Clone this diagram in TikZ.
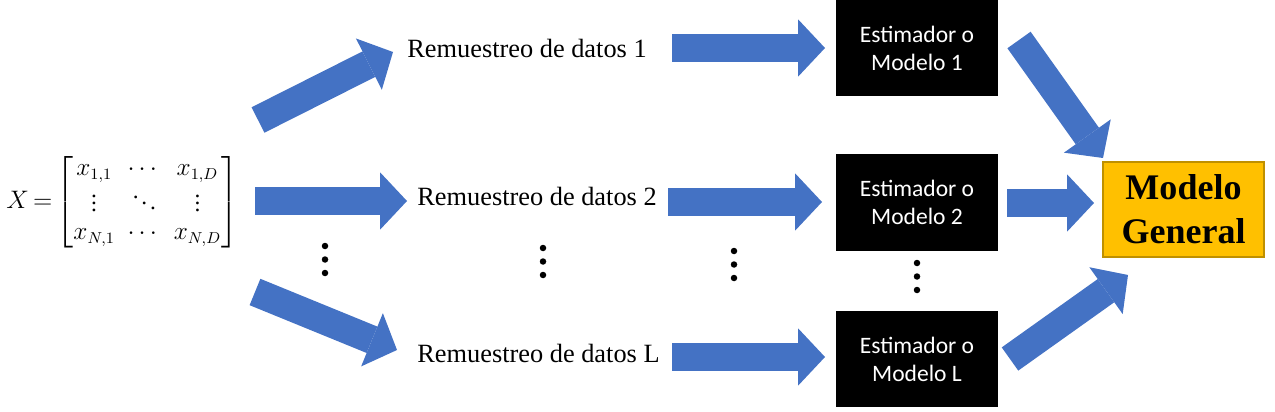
\documentclass[tikz,border=0pt]{standalone}
\usepackage{amsmath}
\usepackage{fontspec}
\setmainfont{Liberation Serif}
\newfontfamily\calibri{Carlito}
\usetikzlibrary{arrows.meta}
\definecolor{arrowblue}{HTML}{4472C4}
\definecolor{gengold}{HTML}{FFC000}
\definecolor{genedge}{HTML}{BF9000}

\begin{document}
\begin{tikzpicture}[x=0.02cm, y=-0.02cm,
blank/.style={inner sep=0pt, font=\fontsize{15}{18}\selectfont},
block/.style={rectangle, fill=black, text=white, align=center, inner sep=0pt,
minimum width=3.24cm, minimum height=1.93cm, font=\calibri\fontsize{13.4}{16}\selectfont},
block-general/.style={rectangle, fill=gengold, draw=genedge, line width=0.8pt, align=center,
minimum width=3.22cm, minimum height=1.9cm, font=\bfseries\fontsize{20.5}{25}\selectfont},
fat/.style={draw=arrowblue, line width=0.57cm,
-{Triangle[line width=0pt, width=1.15cm, length=0.54cm]}},
dot/.style={fill=black}
]
\useasboundingbox (0,0) rectangle (1275,412);

% data matrix
\node [inner sep=0pt, anchor=west] (data) at (6,202)
{\fontsize{13.3}{16}\selectfont $X\mkern-2mu=\mkern-2mu\setlength{\arraycolsep}{3.6pt}\begin{bmatrix} x_{1,1} & \cdots & x_{1,D}\\ \vdots & \ddots & \vdots\\ x_{N,1} & \cdots & x_{N,D}\end{bmatrix}$};

% resampled sets
\node [blank, anchor=base west] (rem-1) at (407,58) {Remuestreo de datos 1};
\node [blank, anchor=base west] (rem-2) at (417,205) {Remuestreo de datos 2};
\node [blank, anchor=base west] (rem-L) at (417,362) {Remuestreo de datos L};

% estimators
\node [block] (est-1) at (917,48) {Estimador o\\Modelo 1};
\node [block] (est-2) at (917,202.5) {Estimador o\\Modelo 2};
\node [block] (est-L) at (917,359) {Estimador o\\Modelo L};

\node [block-general] (gen) at (1183.5,209.5) {Modelo\\General};

% arrow ends
\coordinate (a1-s) at (258,120);  \coordinate (a1-e) at (393,52);
\coordinate (a2-s) at (255,201);  \coordinate (a2-e) at (407,201);
\coordinate (a3-s) at (255,292);  \coordinate (a3-e) at (397,350);
\coordinate (b1-s) at (672,48);   \coordinate (b1-e) at (825,48);
\coordinate (b2-s) at (668,202);  \coordinate (b2-e) at (822,202);
\coordinate (b3-s) at (672,357);  \coordinate (b3-e) at (825,357);
\coordinate (c1-s) at (1019,40);  \coordinate (c1-e) at (1103,158);
\coordinate (c2-s) at (1007,203); \coordinate (c2-e) at (1094,203);
\coordinate (c3-s) at (1010,359); \coordinate (c3-e) at (1128,275);

\foreach \s/\e in {a1-s/a1-e, a2-s/a2-e, a3-s/a3-e, b1-s/b1-e, b2-s/b2-e,
b3-s/b3-e, c1-s/c1-e, c2-s/c2-e, c3-s/c3-e}
\draw [fat] (\s) -- (\e);

% vertical dots
\foreach \x/\y in {325/246, 543/248, 734/251, 917/263}
\foreach \i in {0,1,2}
\fill [dot] (\x,\y+13.5*\i) circle (0.065cm);

\end{tikzpicture}
\end{document}
